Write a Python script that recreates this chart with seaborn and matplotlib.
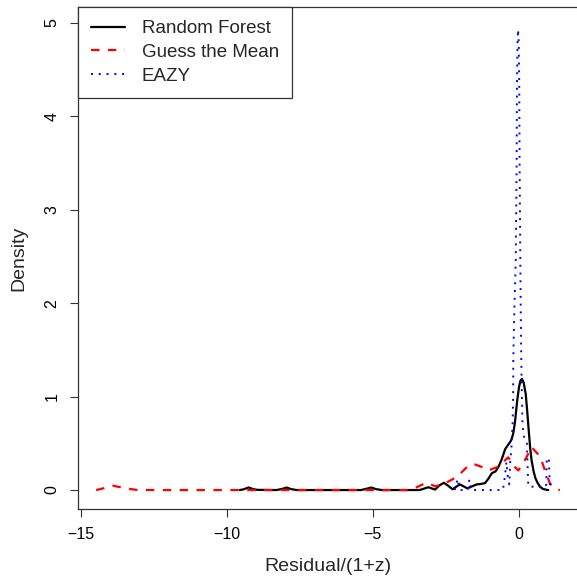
import numpy as np
import pandas as pd
import matplotlib
matplotlib.use("Agg")
import matplotlib.pyplot as plt
import seaborn as sns

# ---------------- data ----------------
# Random Forest density (x = residual/(1+z), y = density)
rf_x = [-9.55, -9.42, -9.25, -9.1, -8.95, -8.3, -8.1, -7.95, -7.8, -7.6,
        -5.4, -5.2, -5.05, -4.9, -4.7, -3.4, -3.25, -3.1, -2.87, -2.72,
        -2.57, -2.42, -2.27, -2.15, -2.02, -1.9, -1.77, -1.6, -1.45, -1.3,
        -1.16, -1.05, -0.93, -0.8, -0.7, -0.59, -0.47, -0.38, -0.27, -0.2,
        -0.14, -0.06, 0.0, 0.05, 0.1, 0.16, 0.23, 0.28, 0.33, 0.38,
        0.43, 0.5, 0.56, 0.63, 0.72, 0.82, 0.95, 1.0]
rf_y = [0.0, 0.008, 0.028, 0.01, 0.002, 0.0, 0.012, 0.027, 0.01, 0.0,
        0.0, 0.015, 0.027, 0.01, 0.0, 0.0, 0.015, 0.03, 0.005, 0.05,
        0.078, 0.045, 0.008, 0.035, 0.06, 0.04, 0.018, 0.04, 0.06, 0.065,
        0.075, 0.12, 0.18, 0.2, 0.25, 0.33, 0.44, 0.48, 0.53, 0.6,
        0.72, 0.96, 1.1, 1.17, 1.19, 1.15, 1.03, 0.85, 0.65, 0.46,
        0.32, 0.2, 0.13, 0.08, 0.035, 0.012, 0.002, 0.0]

# Guess the Mean density
gm_x = [-14.47, -14.2, -13.88, -13.5, -13.1, -12.5, -3.8, -3.5, -3.16, -2.87,
        -2.6, -2.13, -1.8, -1.56, -1.3, -1.05, -0.71, -0.37, -0.15, -0.02,
        0.24, 0.43, 0.72, 0.89, 1.06, 1.25, 1.40]
gm_y = [0.0, 0.02, 0.046, 0.02, 0.002, 0.0, 0.0, 0.03, 0.08, 0.04,
        0.06, 0.14, 0.24, 0.28, 0.25, 0.21, 0.25, 0.35, 0.25, 0.21,
        0.34, 0.46, 0.36, 0.21, 0.07, 0.01, 0.0]

# EAZY density
ez_x = [-2.2, -2.15, -2.1, -2.05, -2.0, -1.75, -1.7, -1.64, -0.55, -0.48,
        -0.43, -0.38, -0.33, -0.3, -0.26, -0.22, -0.2, -0.195, -0.16, -0.11,
        -0.08, -0.07, -0.05, -0.03, -0.01, 0.01, 0.02, 0.045, 0.06, 0.075,
        0.09, 0.12, 0.18, 0.27, 0.3, 0.32, 0.5, 0.93, 0.95, 1.02,
        1.05, 1.07]
ez_y = [0.0, 0.05, 0.12, 0.04, 0.0, 0.0, 0.11, 0.0, 0.0, 0.15,
        0.3, 0.12, 0.06, 0.3, 0.45, 0.7, 1.0, 1.4, 1.93, 2.46,
        3.53, 4.3, 4.8, 4.93, 4.8, 4.3, 3.53, 2.46, 1.93, 1.5,
        1.15, 0.7, 0.55, 0.5, 0.2, 0.04, 0.035, 0.035, 0.34, 0.34,
        0.1, 0.0]

x_ticks = [-15, -10, -5, 0]
y_ticks = [0, 1, 2, 3, 4, 5]

# ---------------- plot ----------------
sns.set_style("ticks")
plt.rcParams['font.family'] = ['Liberation Sans', 'DejaVu Sans']

fig = plt.figure(figsize=(5.77, 5.79), dpi=100)
ax = fig.add_axes([78 / 577, 70 / 579, 512 / 577, 502 / 579])

sns.lineplot(x=rf_x, y=rf_y, ax=ax, color='black', lw=1.6,
             estimator=None, sort=False, label='Random Forest')
sns.lineplot(x=gm_x, y=gm_y, ax=ax, color='red', lw=1.6,
             linestyle=(0, (3.8, 3.8)), estimator=None, sort=False,
             label='Guess the Mean')
sns.lineplot(x=ez_x, y=ez_y, ax=ax, color='blue', lw=1.4,
             linestyle=(0, (1, 3)), estimator=None, sort=False, label='EAZY')

ax.set_xlim(-15.09, 2.43)
ax.set_ylim(-0.203, 5.171)
ax.set_xticks(x_ticks)
ax.set_xticklabels(['\u221215', '\u221210', '\u22125', '0'])
ax.set_yticks(y_ticks)
for lab in ax.get_yticklabels():
    lab.set_rotation(90)
    lab.set_va('center')
ax.tick_params(axis='both', length=5.8, width=0.8, pad=7.5, labelsize=11.5,
               colors='#333333', labelcolor='black')
for s in ax.spines.values():
    s.set_linewidth(0.9)
    s.set_color('#333333')
ax.spines['right'].set_visible(False)

ax.set_xlabel('Residual/(1+z)', fontsize=14, labelpad=11)
ax.xaxis.label.set_x((328 - 78) / 512)
ax.set_ylabel('Density', fontsize=14, labelpad=12)

leg = ax.legend(loc='upper left', bbox_to_anchor=(0, 1), borderaxespad=0,
                fancybox=False, framealpha=1, edgecolor='#333333',
                fontsize=13.5, handlelength=1.8, handletextpad=0.9,
                labelspacing=0.35, borderpad=0.7)
leg.get_frame().set_linewidth(0.9)

fig.savefig('out.png', dpi=100)
